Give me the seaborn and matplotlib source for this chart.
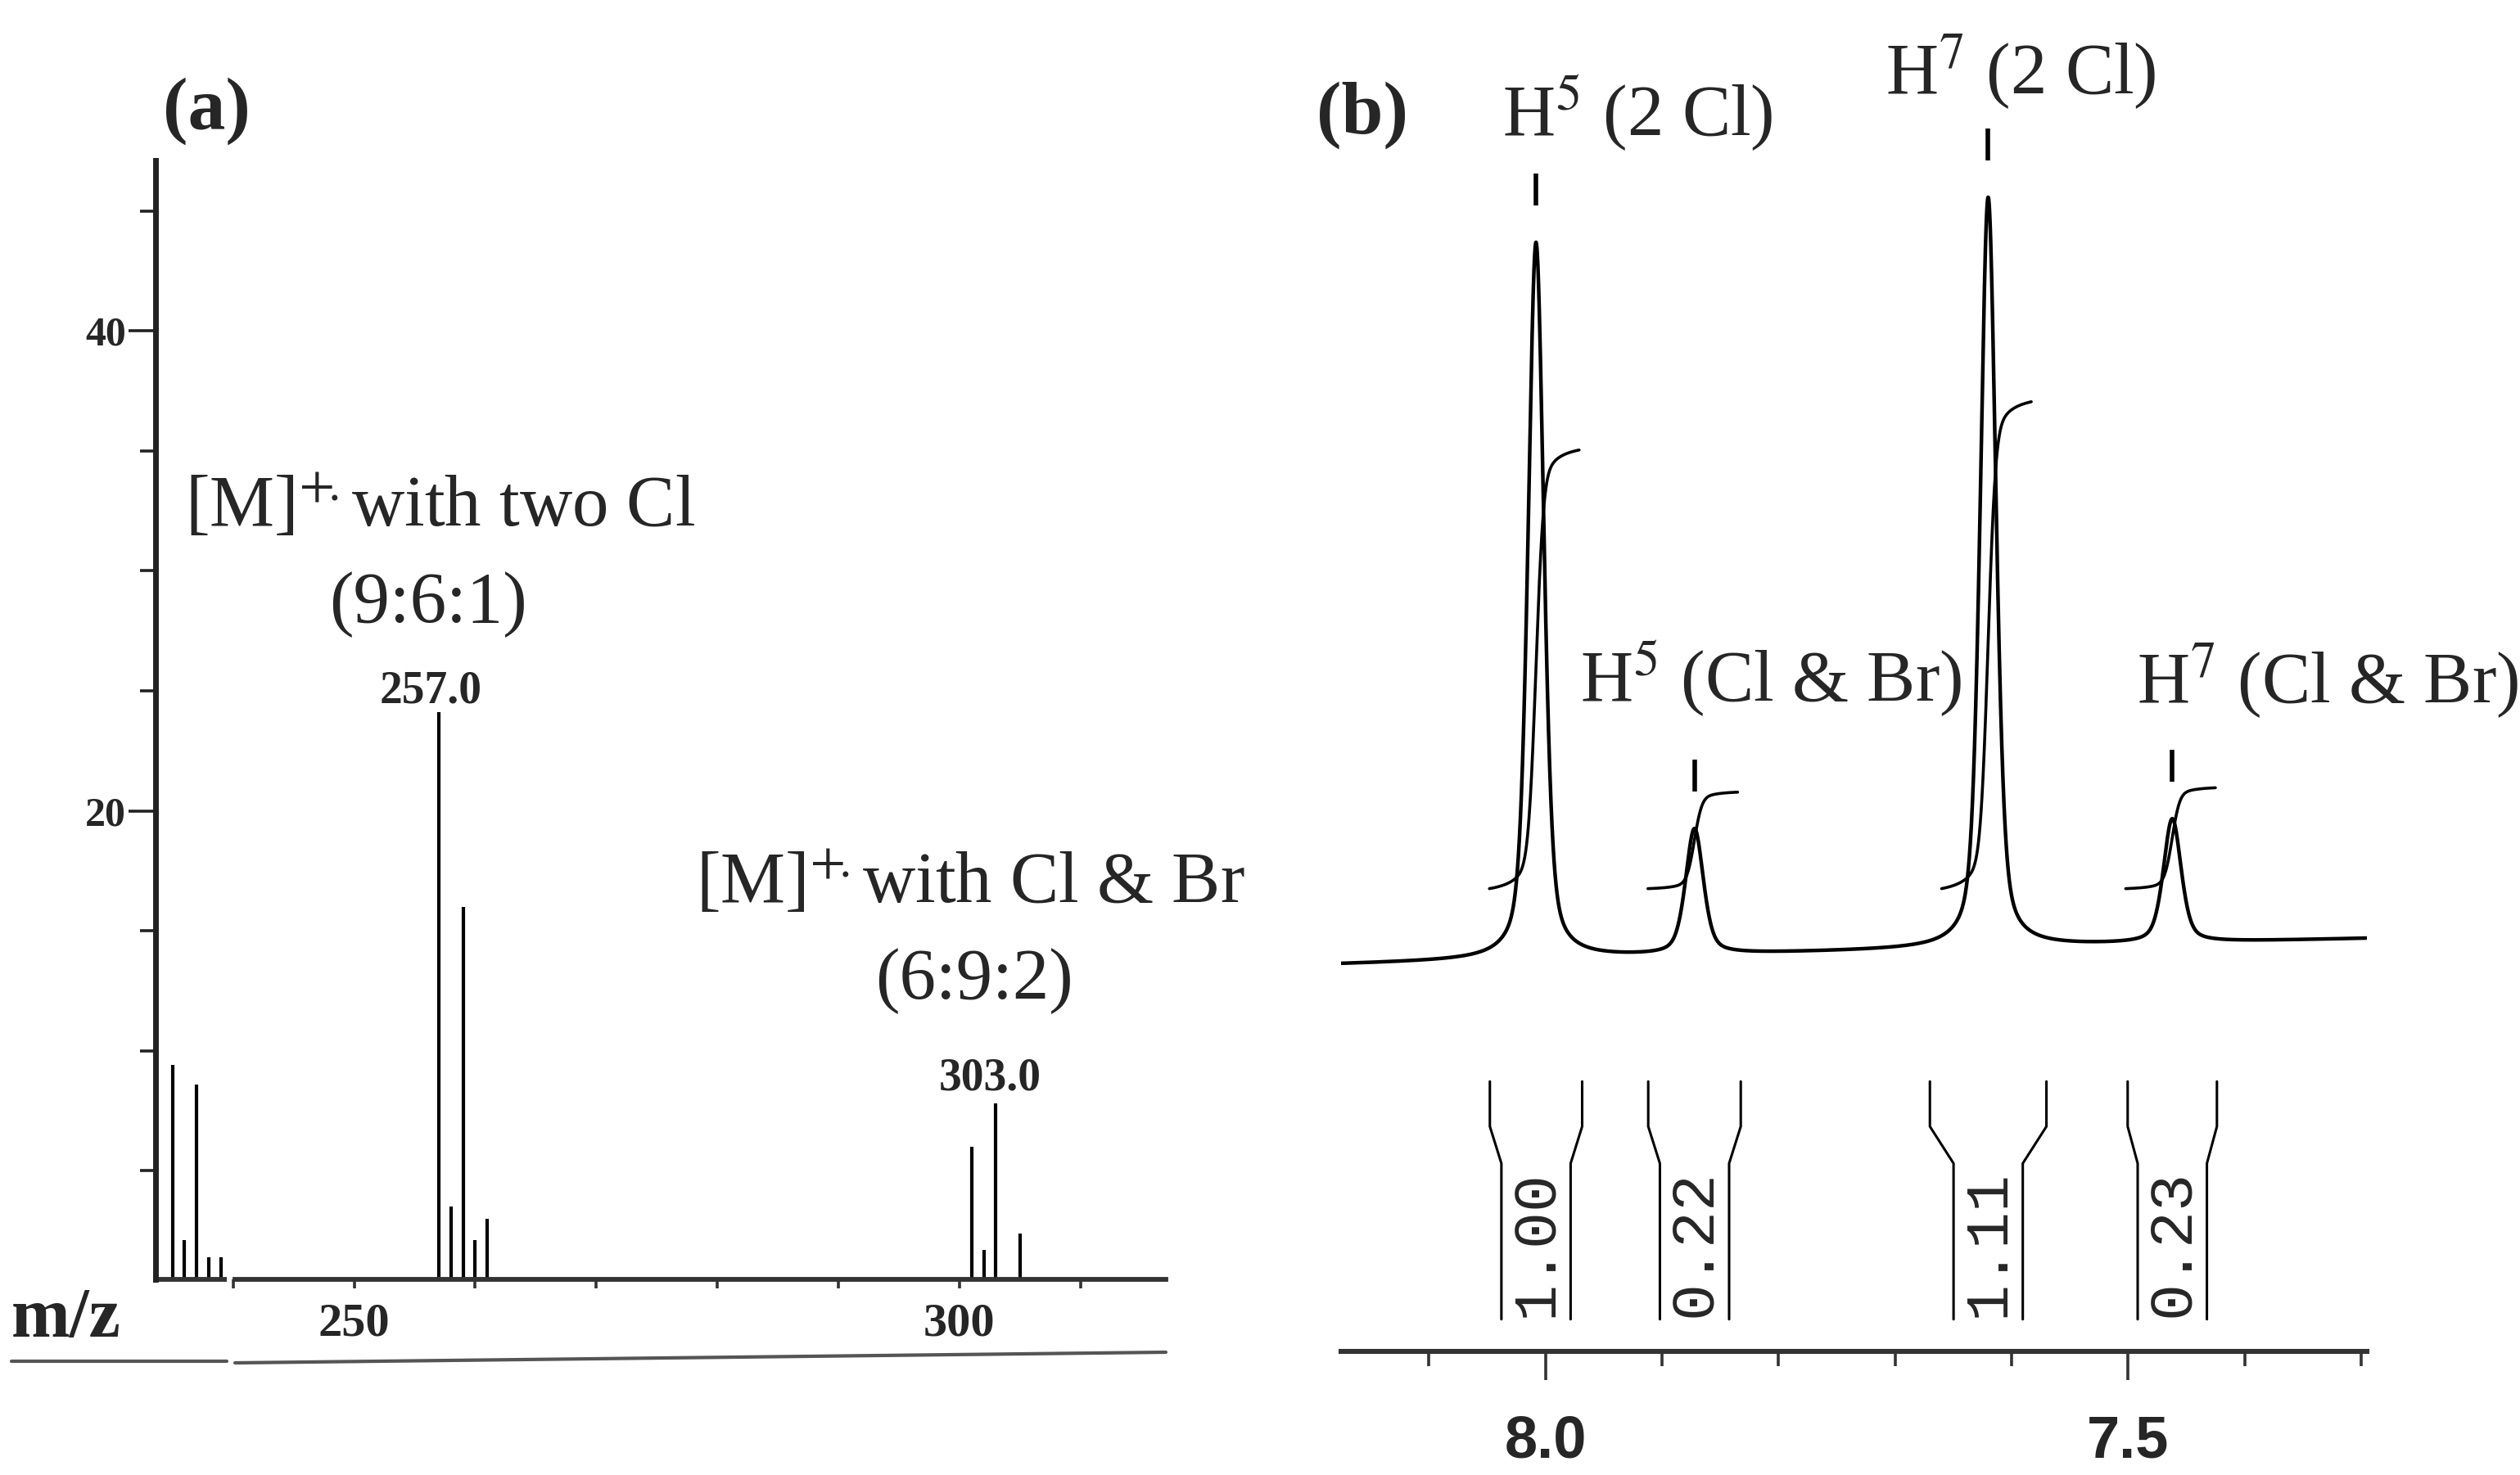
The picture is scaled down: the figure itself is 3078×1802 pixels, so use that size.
import numpy as np
import pandas as pd
import matplotlib
matplotlib.use("Agg")
import matplotlib.pyplot as plt
import seaborn as sns
from matplotlib.lines import Line2D
from matplotlib.ticker import FixedLocator, NullFormatter

# ---------------- data: (a) mass spectrum ----------------
ms_low_mz = [235, 236, 237, 238, 239]
ms_low_int = [9.4, 2.1, 8.6, 1.4, 1.4]
ms_cl2_mz = [257, 258, 259, 260, 261]
ms_cl2_int = [24.1, 3.5, 16.0, 2.1, 3.0]
ms_clbr_mz = [301, 302, 303, 305]
ms_clbr_int = [6.0, 1.7, 7.8, 2.4]
ms_xticks = [250, 300]
ms_xminor = [240, 260, 270, 280, 290, 310]
ms_yticks = [20, 40]
ms_yminor = [5, 10, 15, 25, 30, 35, 45]
ms_peak_labels = ["257.0", "303.0"]
ms_group_labels = [r"[M]$^{+\!.}$with two Cl", r"[M]$^{+\!.}$with Cl & Br"]
ms_ratio_labels = ["(9:6:1)", "(6:9:2)"]

# ---------------- data: (b) 1H NMR ----------------
nmr_labels = ["H$^{5}$ (2 Cl)", "H$^{5}$ (Cl & Br)", "H$^{7}$ (2 Cl)", "H$^{7}$ (Cl & Br)"]
nmr_ppm = [8.008, 7.872, 7.620, 7.462]
nmr_height = [446, 78, 467, 77]
nmr_hwhm = [0.0080, 0.0090, 0.0080, 0.0090]
nmr_integral = [1.00, 0.22, 1.11, 0.23]
nmr_baseline_ends = [241, 257]
nmr_xmajor = [8.0, 7.5]
nmr_xminor = [8.1, 7.9, 7.8, 7.7, 7.6, 7.4, 7.3]

# ---------------- style ----------------
sns.set_theme(style="white")
plt.rcParams["font.family"] = ["Liberation Serif", "DejaVu Serif"]
plt.rcParams["mathtext.fontset"] = "stix"

W, H = 3078, 1802
fig = plt.figure(figsize=(W / 200, H / 200), dpi=200)
fig.patch.set_facecolor("white")


def fx(px):
    return px / W


def fy(py):
    return 1 - py / H


# ======================= panel (a) =======================
axA = fig.add_axes([fx(190), fy(1563), fx(1424) - fx(190), fy(196) - fy(1563)])
axA.set_facecolor("white")
xA0, xA1 = 233.6, 317.04
yA0, yA1 = 0.48, 47.1
axA.set_xlim(xA0, xA1)
axA.set_ylim(yA0, yA1)

all_mz = ms_low_mz + ms_cl2_mz + ms_clbr_mz
all_int = ms_low_int + ms_cl2_int + ms_clbr_int
ms_df = pd.DataFrame({"mz": all_mz, "intensity": all_int})
axA.vlines(ms_df["mz"], 0, ms_df["intensity"], color="black", lw=1.5)

for s in ["top", "right"]:
    axA.spines[s].set_visible(False)
axA.spines["left"].set_linewidth(2.5)
axA.spines["left"].set_color("#222222")
axA.spines["bottom"].set_linewidth(2.1)
axA.spines["bottom"].set_color("#333333")
axA.spines["bottom"].set_bounds(240.17, xA1)
axA.plot([xA0, 239.49], [yA0, yA0], color="#333333", lw=2.1, clip_on=False,
         solid_capstyle="butt")

axA.yaxis.set_major_locator(FixedLocator(ms_yticks))
axA.yaxis.set_minor_locator(FixedLocator(ms_yminor))
axA.yaxis.set_minor_formatter(NullFormatter())
axA.tick_params(axis="y", which="major", direction="out", length=12, width=1.3,
                color="#222222", pad=1, left=True)
axA.tick_params(axis="y", which="minor", direction="out", length=6.8, width=1.3,
                color="#222222", left=True)
for lab in axA.get_yticklabels():
    lab.set_fontweight("bold")
    lab.set_fontsize(18)

axA.xaxis.set_major_locator(FixedLocator(ms_xticks))
axA.xaxis.set_minor_locator(FixedLocator(ms_xminor))
axA.xaxis.set_minor_formatter(NullFormatter())
axA.tick_params(axis="x", which="both", direction="out", length=4.1, width=1.3,
                color="#333333", pad=6, bottom=True)
for lab in axA.get_xticklabels():
    lab.set_fontweight("bold")
    lab.set_fontsize(21)
axA.grid(False)

# annotations (a)
axA.text(257.07, 31.86, ms_group_labels[0], ha="center", va="baseline", fontsize=32)
axA.text(256.1, 27.85, ms_ratio_labels[0], ha="center", va="baseline", fontsize=32)
axA.text(ms_cl2_mz[0] - 0.7, 24.5, ms_peak_labels[0], ha="center", va="baseline",
         fontsize=20, fontweight="bold")
axA.text(300.9, 16.18, ms_group_labels[1], ha="center", va="baseline", fontsize=32)
axA.text(301.2, 12.17, ms_ratio_labels[1], ha="center", va="baseline", fontsize=32)
axA.text(ms_clbr_mz[2] - 0.5, 8.36, ms_peak_labels[1], ha="center", va="baseline",
         fontsize=20, fontweight="bold")

fig.text(fx(199), fy(136), "(a)", ha="left", va="center", fontsize=33, fontweight="bold")
fig.text(fx(14), fy(1613), "m/z", ha="left", va="center", fontsize=31, fontweight="bold")
fig.add_artist(Line2D([fx(14), fx(277)], [fy(1663), fy(1663)], color="#555555", lw=1.5))
fig.add_artist(Line2D([fx(287), fx(1424)], [fy(1665), fy(1652)], color="#555555", lw=1.5))

# ======================= panel (b) =======================
axB = fig.add_axes([fx(1638), fy(1651), fx(2891) - fx(1638), 1 - fy(1651)])
axB.set_facecolor("white")
xB0, xB1 = 8.1753, 7.295
axB.set_xlim(xB0, xB1)
axB.set_ylim(0, 1651 / 1.963)


def pvoigt(x, x0, h, hw, eta):
    d = ((x - x0) / hw) ** 2
    return h * (eta / (1 + d) + (1 - eta) * np.exp(-np.log(2) * d))


ppm = np.linspace(xB0, xB1, 5000)
baseline = np.interp(ppm, [xB1, xB0], nmr_baseline_ends[::-1])
trace = baseline.copy()
for p, h, w in zip(nmr_ppm, nmr_height, nmr_hwhm):
    trace += pvoigt(ppm, p, h, w, 0.45)
nmr_df = pd.DataFrame({"ppm": ppm, "signal": trace})
sns.lineplot(data=nmr_df, x="ppm", y="signal", ax=axB, color="black", lw=1.6,
             estimator=None, sort=False)

# integral traces
for p, w, integ in zip(nmr_ppm, nmr_hwhm, nmr_integral):
    xs = np.linspace(p + 0.040, p - 0.037, 400)
    prof = pvoigt(xs, p, 1.0, 0.006, 0.3)
    cum = np.cumsum(prof)
    cum = (cum - cum[0]) / (cum[-1] - cum[0])
    seg = pd.DataFrame({"ppm": xs, "integral": 288 + integ * 273 * cum})
    sns.lineplot(data=seg, x="ppm", y="integral", ax=axB, color="black", lw=1.3,
                 estimator=None, sort=False)

# peak markers
peak_tops = [np.interp(p, ppm[::-1], trace[::-1]) for p in nmr_ppm]
axB.vlines(nmr_ppm, np.array(peak_tops) + 23, np.array(peak_tops) + 43,
           color="black", lw=2)

# integral boxes
top_hw = [0.0396, 0.0397, 0.050, 0.0383]
bot_hw = 0.0297
yb_top, yb_n1, yb_n2, yb_bot = 168, 140, 117, 20
for p, thw, integ in zip(nmr_ppm, top_hw, nmr_integral):
    for sgn in (1, -1):
        xs_box = [p + sgn * thw, p + sgn * thw, p + sgn * bot_hw, p + sgn * bot_hw]
        ys_box = [yb_top, yb_n1, yb_n2, yb_bot]
        axB.plot(xs_box, ys_box, color="black", lw=1.1)
    axB.text(p, 67, f"{integ:.2f}", rotation=90, ha="center", va="center",
             fontsize=27, family="Liberation Mono")

# labels (b)
axB.text(8.0366, 756, nmr_labels[0], ha="left", va="baseline", fontsize=32)
axB.text(7.9703, 404, nmr_labels[1], ha="left", va="baseline", fontsize=32)
axB.text(7.7082, 783, nmr_labels[2], ha="left", va="baseline", fontsize=32)
axB.text(7.4922, 404, nmr_labels[3], ha="left", va="baseline", fontsize=32)

for s in ["top", "right", "left"]:
    axB.spines[s].set_visible(False)
axB.spines["bottom"].set_linewidth(2.2)
axB.spines["bottom"].set_color("#333333")
axB.set_yticks([])
axB.xaxis.set_major_locator(FixedLocator(nmr_xmajor))
axB.xaxis.set_minor_locator(FixedLocator(nmr_xminor))
axB.xaxis.set_minor_formatter(NullFormatter())
axB.set_xticklabels([f"{v:.1f}" for v in nmr_xmajor])
axB.tick_params(axis="x", which="major", direction="out", length=12.6, width=1.3,
                color="#333333", pad=15, bottom=True)
axB.tick_params(axis="x", which="minor", direction="out", length=6.5, width=1.3,
                color="#333333", bottom=True)
for lab in axB.get_xticklabels():
    lab.set_fontweight("bold")
    lab.set_fontsize(26)
    lab.set_family(["Liberation Sans", "DejaVu Sans"])
axB.set_xlabel("")
axB.set_ylabel("")
axA.set_xlabel("")
axA.set_ylabel("")
axB.grid(False)

fig.text(fx(1608), fy(141), "(b)", ha="left", va="center", fontsize=33, fontweight="bold")

fig.savefig("out.png", dpi=200, facecolor="white")
